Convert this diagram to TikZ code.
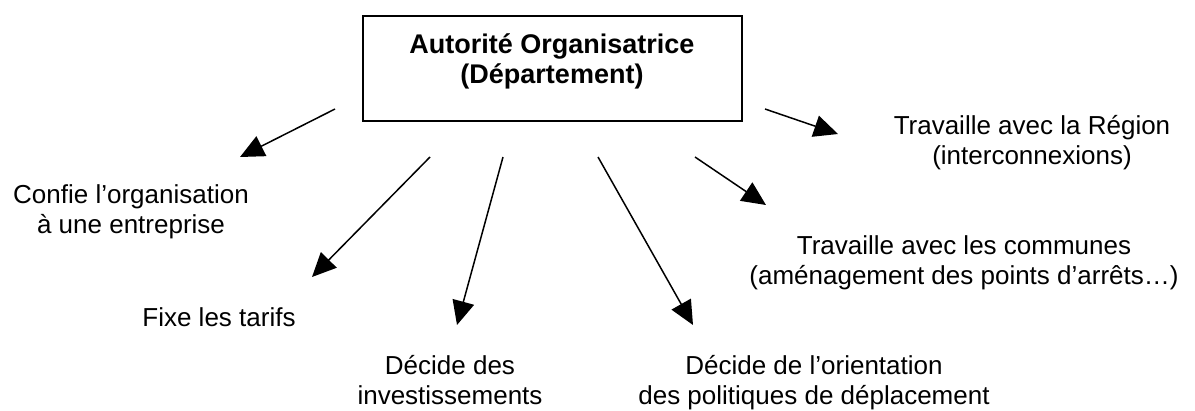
\documentclass[tikz,border=0pt]{standalone}
\usepackage{fontspec}
\setmainfont{Liberation Sans}
\usetikzlibrary{
  arrows.meta,
  positioning
}

\begin{document}
\begin{tikzpicture}[
  x=1pt, y=-1pt,
  font={\fontsize{26}{30}\selectfont},
  autorite/.style={
    rectangle, draw=black, line width=2pt,
    minimum width=379pt, minimum height=105pt
  },
  role/.style={align=center, inner sep=0pt, anchor=base},
  arrow/.style={-{Triangle[length=24pt,width=22pt]}, black, line width=1.5pt},
]

% Canvas
\useasboundingbox (0,0) rectangle (1195,410);

% Autorite organisatrice (box + title)
\node[autorite] (ao) at (552.5,68.5) {};
\node[role, font={\fontsize{27}{30}\selectfont\bfseries}] (aotitle) at (552,83)
  {Autorité Organisatrice\\(Département)};

% Missions (base = last line)
\node[role] (confie) at (131,233) {Confie l’organisation\\à une entreprise};
\node[role] (tarifs) at (219,326) {Fixe les tarifs};
\node[role] (invest) at (450,404) {Décide des\\investissements};
\node[role] (orient) at (814,404) {Décide de l’orientation\\des politiques de déplacement};
\node[role] (communes) at (964,284) {Travaille avec les communes\\(aménagement des points d’arrêts…)};
\node[role] (region) at (1032,164) {Travaille avec la Région\\(interconnexions)};

% Arrow ends
\coordinate (s-confie) at (335,109);   \coordinate (t-confie) at (240,157);
\coordinate (s-tarifs) at (430,157);   \coordinate (t-tarifs) at (312,277);
\coordinate (s-invest) at (503,157);   \coordinate (t-invest) at (457,325);
\coordinate (s-orient) at (598,157);   \coordinate (t-orient) at (693,325);
\coordinate (s-communes) at (695,157); \coordinate (t-communes) at (766,205);
\coordinate (s-region) at (765,109);   \coordinate (t-region) at (838,134);

% Arrows
\draw[arrow] (s-confie) -- (t-confie);
\draw[arrow] (s-tarifs) -- (t-tarifs);
\draw[arrow] (s-invest) -- (t-invest);
\draw[arrow] (s-orient) -- (t-orient);
\draw[arrow] (s-communes) -- (t-communes);
\draw[arrow] (s-region) -- (t-region);

\end{tikzpicture}
\end{document}
